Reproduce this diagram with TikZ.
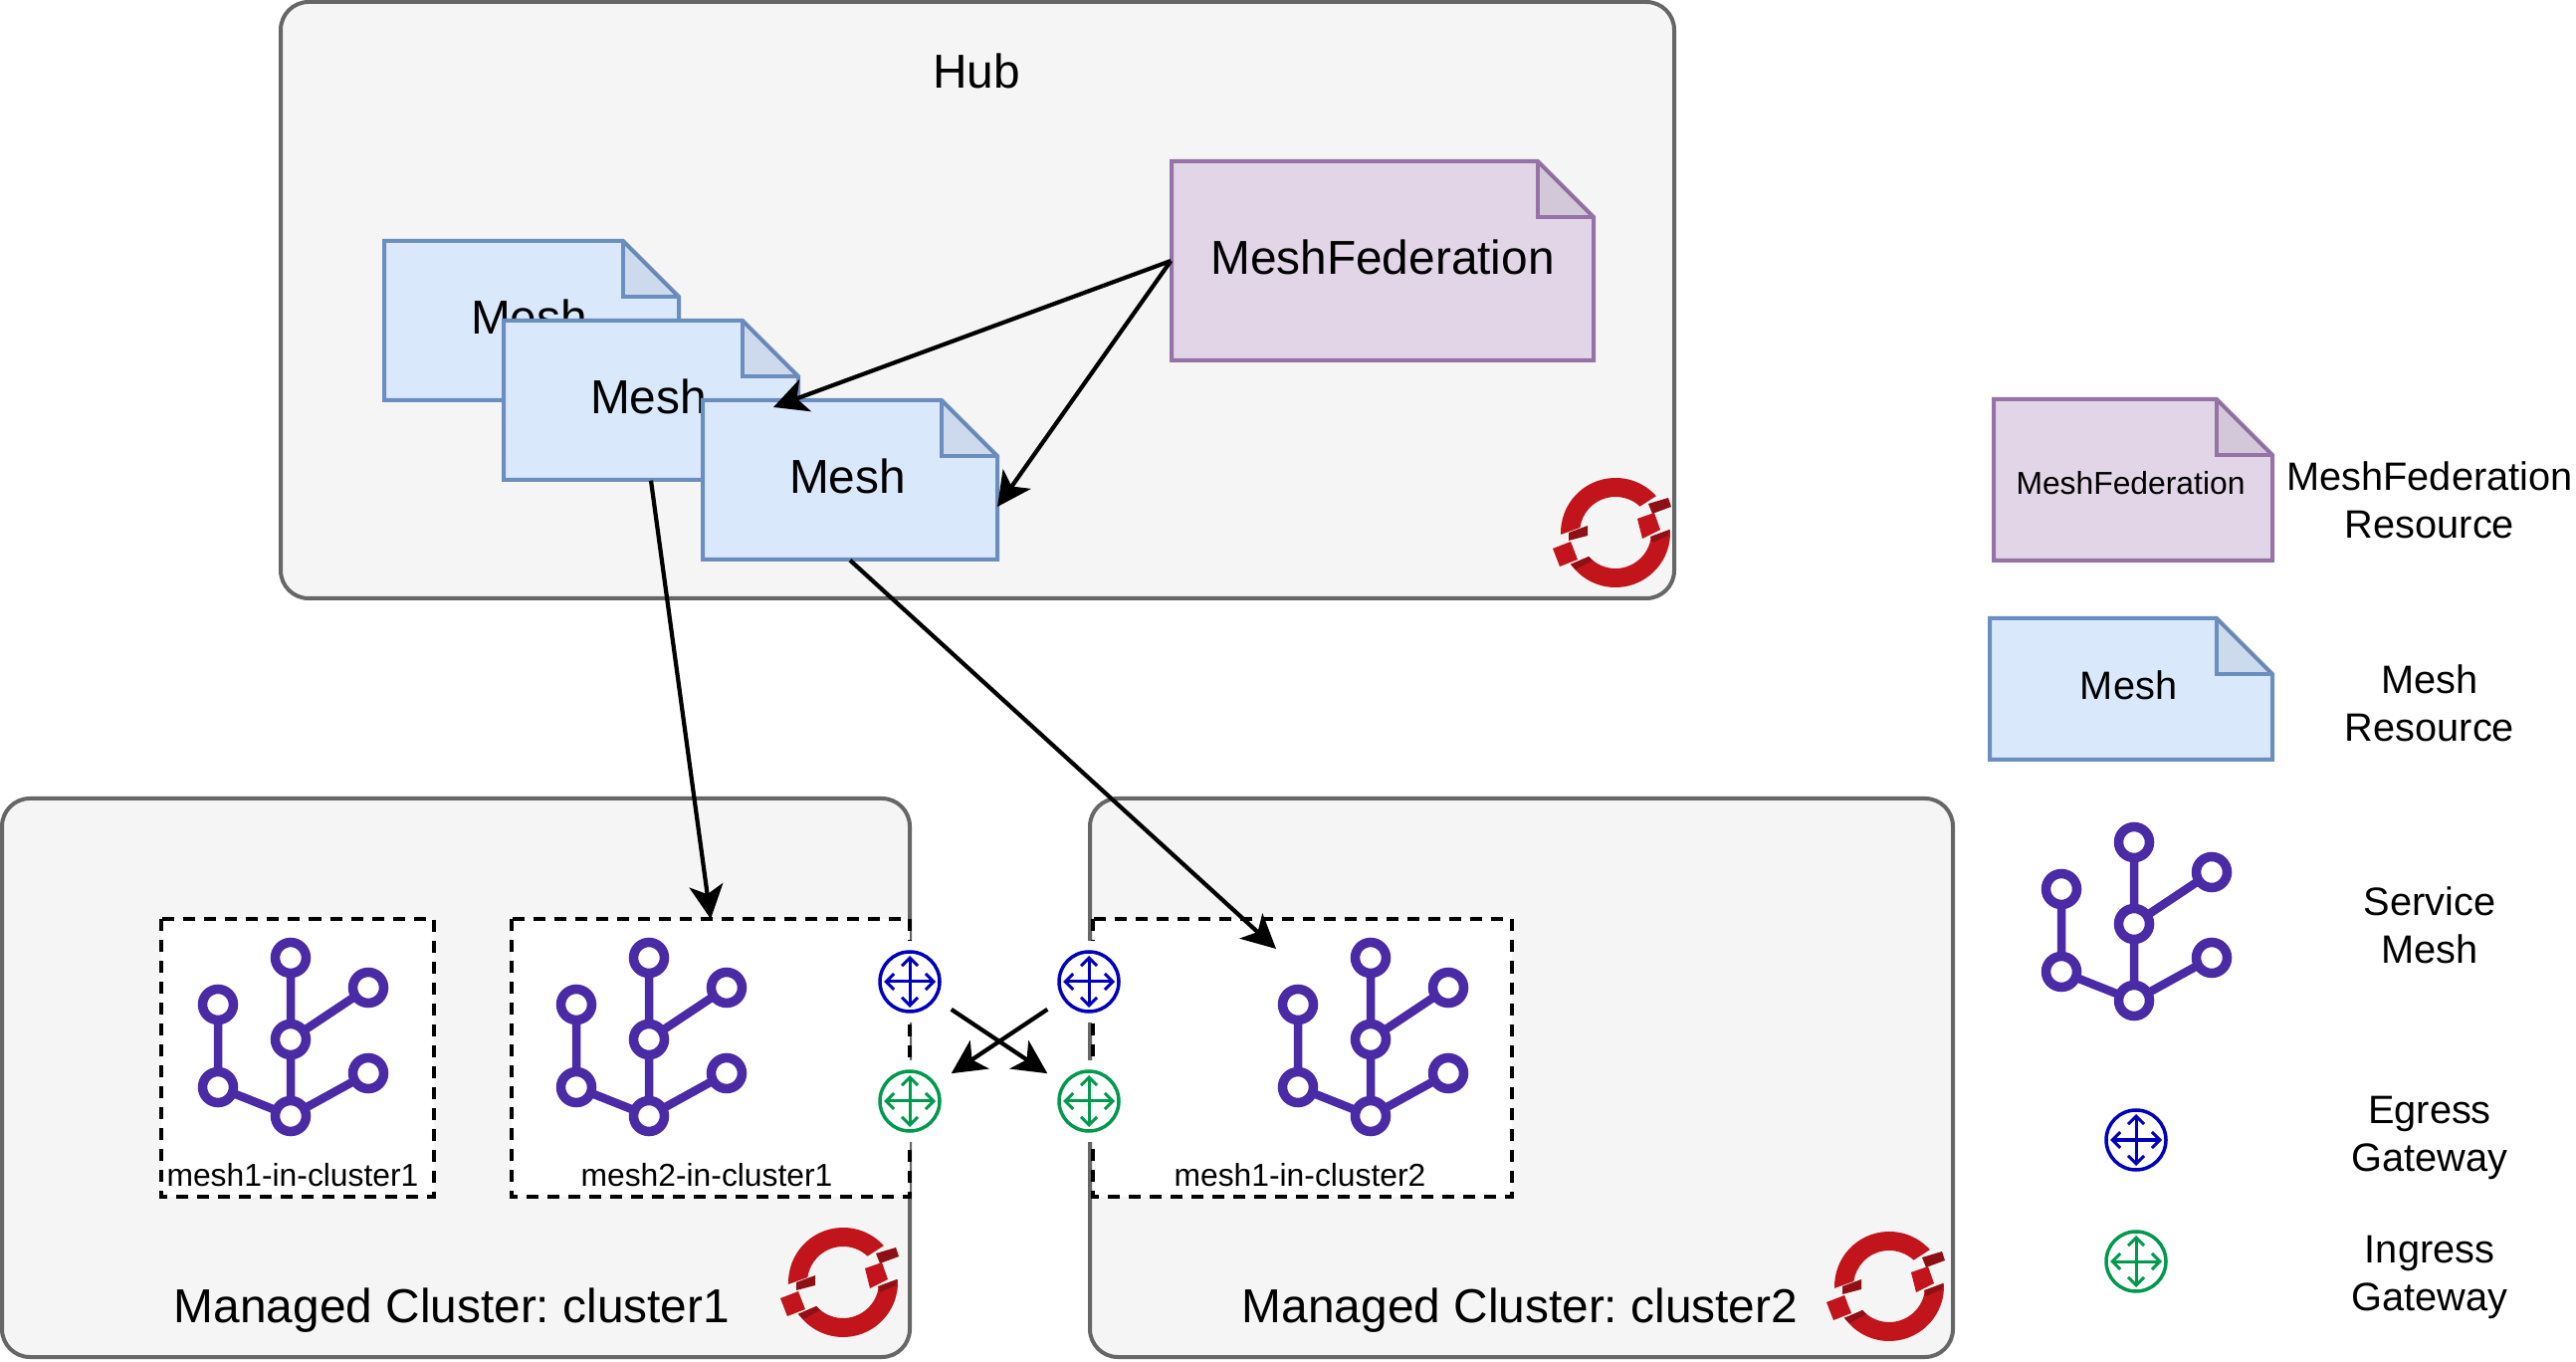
\documentclass[tikz,border=0pt]{standalone}
\usepackage{fontspec}
\setmainfont{Liberation Sans}
\usetikzlibrary{arrows.meta}
\definecolor{boxfill}{HTML}{F5F5F5}
\definecolor{boxline}{HTML}{666666}
\definecolor{meshfill}{HTML}{DAE8FC}
\definecolor{meshline}{HTML}{6C8EBF}
\definecolor{fedfill}{HTML}{E1D5E7}
\definecolor{fedline}{HTML}{9673A6}
\definecolor{iconviolet}{HTML}{4B2AA6}
\definecolor{egressblue}{HTML}{0000BB}
\definecolor{ingressgreen}{HTML}{00994D}
\definecolor{logored}{HTML}{C1141B}
\definecolor{logodark}{HTML}{8E1015}
\newcommand{\bigfont}{\frenchspacing\fontsize{13.6}{16}\selectfont}
\newcommand{\midfont}{\fontsize{11.3}{13.66}\selectfont}
\newcommand{\smallfont}{\fontsize{9.05}{11}\selectfont}
\newcommand{\meshlabel}{\raisebox{.07cm}{\hspace*{-.05cm}Mesh}}
% style, name, x, y, half width, half height, font, text
\newcommand{\resdoc}[8]{
	\draw[#1,shift={(#3,#4)}] (-#5,-#6)--(#5-56,-#6)--(#5,-#6+56)--(#5,#6)--(-#5,#6)--cycle;
	\fill[black,opacity=.06,shift={(#3,#4)}] (#5-56,-#6)--(#5-56,-#6+56)--(#5,-#6+56)--cycle;
	\draw[#1,fill=none,shift={(#3,#4)}] (#5-56,-#6)--(#5-56,-#6+56)--(#5,-#6+56);
	\node[inner sep=0,minimum width=2*#5*0.01cm,minimum height=2*#6*0.01cm,font=#7] (#2) at (#3,#4) {#8};
}
\tikzset{
	panel/.style={draw=boxline,fill=boxfill,line width=.04cm,rounded corners=.28cm},
	meshdoc/.style={draw=meshline,fill=meshfill,line width=.04cm},
	feddoc/.style={draw=fedline,fill=fedfill,line width=.04cm},
	dashbox/.style={draw=black,fill=white,line width=.045cm,dash pattern=on .12cm off .09cm},
	gatecell/.style={fill=white,inner sep=0,minimum size=.82cm},
	flow/.style={draw=black,line width=.042cm,-{Stealth[length=.34cm,width=.34cm,inset=.09cm]}},
	legendtext/.style={font=\midfont,align=center},
	meshicon/.pic={
		\draw[iconviolet,line width=.085cm]
			(0,-82)--(0,77) (-73,-35)--(-73,48)--(0,77)--(78,34) (0,0)--(78,-52);
		\foreach \px/\py in {0/-82,78/-52,-73/-35,0/0,78/34,-73/48,0/77}
			\draw[iconviolet,fill=white,line width=.095cm] (\px,\py) circle[radius=15.5];
	},
	gateicon/.pic={
		\draw[#1,line width=.035cm] (0,0) circle[radius=30];
		\draw[#1,line width=.03cm,{Straight Barb[length=.08cm,width=.16cm]}-{Straight Barb[length=.08cm,width=.16cm]}] (-26,0)--(26,0);
		\draw[#1,line width=.03cm,{Straight Barb[length=.08cm,width=.16cm]}-{Straight Barb[length=.08cm,width=.16cm]}] (0,-26)--(0,26);
	},
	openshift/.pic={
		\fill[logored] (178:55) arc[start angle=178,end angle=318,radius=55]
			--(313:36) arc[start angle=313,end angle=188,radius=36]--cycle;
		\fill[logored] (-3:55) arc[start angle=-3,end angle=145,radius=55]
			--(138:36) arc[start angle=138,end angle=7,radius=36]--cycle;
		\fill[logored] (22,-14)--(39,-20)--(45,-3)--(27,6)--cycle;
		\fill[logored] (-63,16)--(-45,9)--(-38,27)--(-56,34)--cycle;
		\fill[logodark] (-47,0)--(-28,-7)--(-28,3)--(-47,8)--cycle;
		\fill[logodark] (33,-29)--(53,-35)--(56,-26)--(37,-19)--cycle;
		\fill[logodark] (35,4)--(54,-3)--(53,3)--(37,10)--cycle;
		\fill[logodark] (-45,32)--(-27,24)--(-23,28)--(-40,37)--cycle;
	}
}
\begin{document}
\begin{tikzpicture}[x=.01cm,y=-.01cm]
	\useasboundingbox (0,0) rectangle (2588,1368);
	% hub
	\draw[panel] (282,2) rectangle (1682,601);
	\node[font=\bigfont] (hublabel) at (981,71) {Hub};
	\pic at (1623,535) {openshift};
	\resdoc{feddoc}{fed}{1389}{262}{212}{100}{\bigfont}{\raisebox{.07cm}{MeshFederation}}
	\resdoc{meshdoc}{meshback}{534}{322}{148}{80}{\bigfont}{\meshlabel}
	\resdoc{meshdoc}{meshmid}{654}{402}{148}{80}{\bigfont}{\meshlabel}
	\resdoc{meshdoc}{meshfront}{854}{482}{148}{80}{\bigfont}{\meshlabel}
	% managed clusters
	\draw[panel] (2,802) rectangle (914,1363);
	\draw[panel] (1095,802) rectangle (1962,1363);
	\node[font=\bigfont] (clusterlabela) at (454,1316) {Managed Cluster: cluster1};
	\node[font=\bigfont] (clusterlabelb) at (1527,1316) {Managed Cluster: cluster2};
	\pic at (847,1288) {openshift};
	\pic at (1898,1292) {openshift};
	\draw[dashbox] (162,923) rectangle (436,1202);
	\draw[dashbox] (514,923) rectangle (914,1202);
	\draw[dashbox] (1098,923) rectangle (1519,1202);
	\coordinate (meshtarget) at (714,923);
	\coordinate (fedtipa) at (777,409);
	\coordinate (fedtipb) at (1002,509);
	\coordinate (remotetip) at (1282,953);
	\foreach \ix/\iy in {292/1044,652/1044,1377/1044,2144/928}
		\pic at (\ix,\iy) {meshicon};
	\node[font=\smallfont] (labela) at (294,1180) {mesh1-in-cluster1};
	\node[font=\smallfont] (labelb) at (710,1180) {mesh2-in-cluster1};
	\node[font=\smallfont] (labelc) at (1306,1180) {mesh1-in-cluster2};
	% gateways
	\node[gatecell] (egressa) at (914,986) {};
	\node[gatecell] (ingressa) at (914,1106) {};
	\node[gatecell] (egressb) at (1094,986) {};
	\node[gatecell] (ingressb) at (1094,1106) {};
	\foreach \gx/\gy in {914/986,1094/986,2146/1145}
		\pic at (\gx,\gy) {gateicon=egressblue};
	\foreach \gx/\gy in {914/1106,1094/1106,2146/1267}
		\pic at (\gx,\gy) {gateicon=ingressgreen};
	\draw[flow] (egressa)--(ingressb);
	\draw[flow] (egressb)--(ingressa);
	% resources to clusters
	\draw[flow] (fed.west)--(fedtipa);
	\draw[flow] (fed.west)--(fedtipb);
	\draw[flow] (meshmid.south)--(meshtarget);
	\draw[flow] (meshfront.south)--(remotetip);
	% legend
	\resdoc{feddoc}{legendfed}{2143}{482}{140}{81}{\smallfont}{\raisebox{-.06cm}[\height][.06cm]{\hspace*{-.05cm}MeshFederation}}
	\resdoc{meshdoc}{legendmesh}{2141}{692}{142}{71}{\midfont}{\meshlabel}
	\node[legendtext] (textfed) at (2441,502) {MeshFederation\\Resource};
	\node[legendtext] (textmesh) at (2441,706) {Mesh\\Resource};
	\node[legendtext] (textservice) at (2441,929) {Service\\Mesh};
	\node[legendtext] (textegress) at (2441,1143) {Egress\\Gateway};
	\node[legendtext] (textingress) at (2441,1283) {Ingress\\Gateway};
\end{tikzpicture}
\end{document}
